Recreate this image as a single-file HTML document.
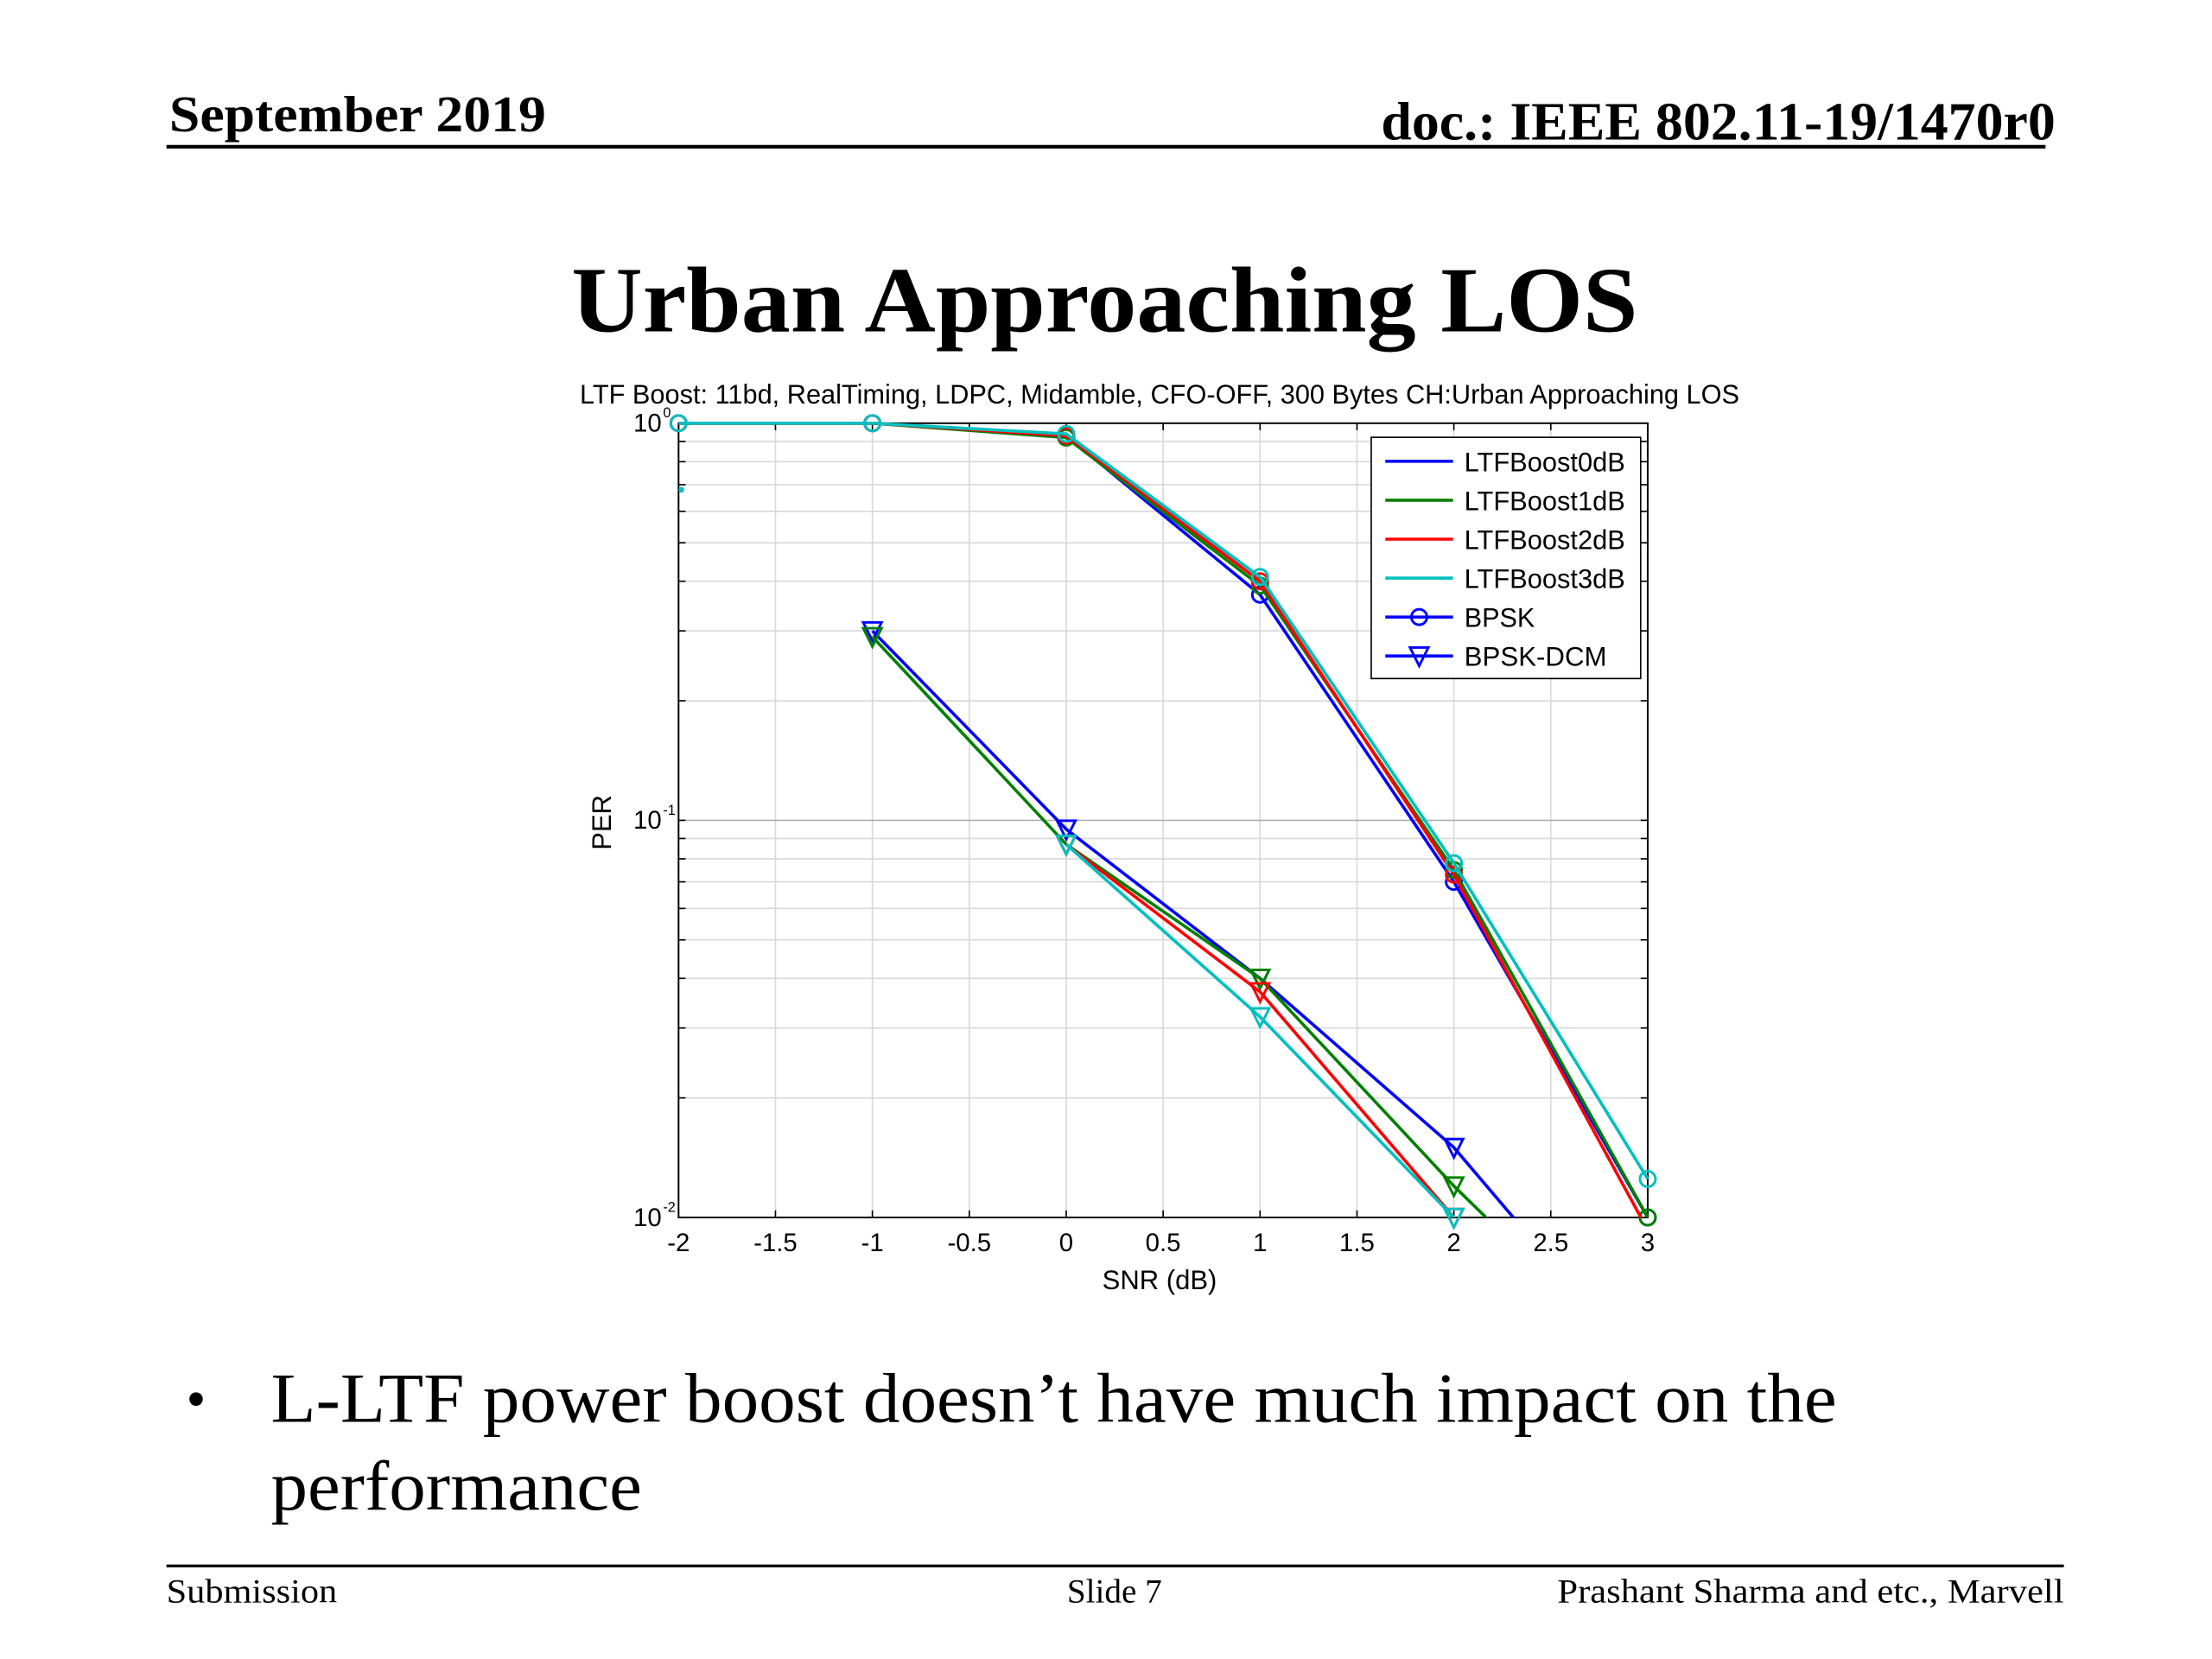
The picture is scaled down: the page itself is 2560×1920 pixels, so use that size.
<!DOCTYPE html>
<html><head><meta charset="utf-8"><style>
html,body{margin:0;padding:0;background:#fff;}
svg{display:block;}
</style></head><body>
<svg id="slide" width="2560" height="1920" viewBox="0 0 1568 1176" preserveAspectRatio="none" xmlns="http://www.w3.org/2000/svg">
<rect width="1568" height="1176" fill="#fff"/>
<g font-family="'Liberation Serif',serif" fill="#000">
<text x="120" y="93" font-size="36" font-weight="bold" textLength="267" lengthAdjust="spacingAndGlyphs">September 2019</text>
<text x="1457" y="99" font-size="38" font-weight="bold" text-anchor="end" textLength="478" lengthAdjust="spacingAndGlyphs">doc.: IEEE 802.11-19/1470r0</text>
<line x1="118" y1="104" x2="1450" y2="104" stroke="#000" stroke-width="2.5"/>
<text x="783" y="235" font-size="66" font-weight="bold" text-anchor="middle" textLength="756" lengthAdjust="spacingAndGlyphs">Urban Approaching LOS</text>
<text x="132" y="1005" font-size="40">•</text>
<text x="192" y="1008" font-size="50" textLength="1110" lengthAdjust="spacingAndGlyphs">L-LTF power boost doesn’t have much impact on the</text>
<text x="192" y="1070" font-size="50" textLength="263" lengthAdjust="spacingAndGlyphs">performance</text>
<line x1="118" y1="1110" x2="1463" y2="1110" stroke="#000" stroke-width="2"/>
<text x="118" y="1136" font-size="24" textLength="121" lengthAdjust="spacingAndGlyphs">Submission</text>
<text x="790" y="1136" font-size="24" text-anchor="middle">Slide 7</text>
<text x="1104" y="1136" font-size="24" textLength="359" lengthAdjust="spacingAndGlyphs">Prashant Sharma and etc., Marvell</text>
</g>
<g id="chart" font-family="'Liberation Sans',sans-serif"></g>
</svg>
<script>
const snr=[-2,-1,0,1,2,3];
const seriesNames=['LTFBoost0dB','LTFBoost1dB','LTFBoost2dB','LTFBoost3dB'];
const colors=['#0000ff','#008000','#ff0000','#00bfbf'];
const bpsk0=[1,1,0.93,0.37,0.070,0.0100];
const bpsk1=[1,1,0.92,0.39,0.075,0.0100];
const bpsk2=[1,1,0.93,0.40,0.073,0.0093];
const bpsk3=[1,1,0.94,0.41,0.078,0.0125];
const dcm0=[null,0.30,0.095,0.040,0.015,0.0040];
const dcm1=[null,0.29,0.087,0.040,0.012,0.0040];
const dcm2=[null,null,0.087,0.037,0.010,0.0030];
const dcm3=[null,null,0.087,0.032,0.010,0.0030];
const xTicks=[-2,-1.5,-1,-0.5,0,0.5,1,1.5,2,2.5,3];
const yDecades=[0,-1,-2];

const NS='http://www.w3.org/2000/svg';
const g=document.getElementById('chart');
const L=481,R=1168,T=300,B=863;
const X=v=>L+(v-(-2))/5*(R-L);
const Y=v=>T+(-Math.log10(v))/2*(B-T);
function mk(t,a,p){const e=document.createElementNS(NS,t);for(const k in a)e.setAttribute(k,a[k]);(p||g).appendChild(e);return e;}

const clip=mk('clipPath',{id:'pc'});mk('rect',{x:L,y:T-10,width:R-L+10,height:B-T+10},clip);
xTicks.forEach(v=>{
  const l=mk('line',{x1:X(v),x2:X(v),y1:T,y2:B,stroke:'#d8d8d8','stroke-width':1});
  
  
  mk('line',{x1:X(v),x2:X(v),y1:B,y2:B-5,stroke:'#000'});mk('line',{x1:X(v),x2:X(v),y1:T,y2:T+5,stroke:'#000'});
  const t=mk('text',{x:X(v),y:B+24,'font-size':18,'text-anchor':'middle'});t.textContent=String(v);
  
  
});
for(let d=-2;d<0;d++){for(let m=1;m<10;m++){const v=m*Math.pow(10,d);const y=Y(v);
  const l=mk('line',{x1:L,x2:R,y1:y,y2:y,stroke:m===1?'#b0b0b0':'#d8d8d8','stroke-width':1});
  
  
  mk('line',{x1:L,x2:L+5,y1:y,y2:y,stroke:'#000'});mk('line',{x1:R,x2:R-5,y1:y,y2:y,stroke:'#000'});
}}
yDecades.forEach(d=>{
  const t=mk('text',{x:L-12,y:Y(Math.pow(10,d))+6,'font-size':18,'text-anchor':'end'});t.textContent='10';
  
  
  const s=mk('text',{x:L-11,y:Y(Math.pow(10,d))-4,'font-size':10});s.textContent=String(d);
});
const ax=mk('rect',{x:L,y:T,width:R-L,height:B-T,fill:'none',stroke:'#000','stroke-width':1.2});


let tt=mk('text',{x:822,y:286,'font-size':19,'text-anchor':'middle',textLength:822,lengthAdjust:'spacingAndGlyphs'});
tt.textContent='LTF Boost: 11bd, RealTiming, LDPC, Midamble, CFO-OFF, 300 Bytes CH:Urban Approaching LOS';


tt=mk('text',{x:822,y:914,'font-size':19,'text-anchor':'middle'});tt.textContent='SNR (dB)';


tt=mk('text',{x:433,y:583,'font-size':19,'text-anchor':'middle',transform:'rotate(-90 433 583)'});tt.textContent='PER';



const series=[[bpsk0,bpsk1,bpsk2,bpsk3],[dcm0,dcm1,dcm2,dcm3]];
series.forEach((grp,gi)=>grp.forEach((vals,si)=>{
  const pts=[];snr.forEach((s,i)=>{if(vals[i]!=null)pts.push(X(s)+','+Y(vals[i]));});
  const pl=mk('polyline',{points:pts.join(' '),fill:'none',stroke:colors[si],'stroke-width':2.2,'clip-path':'url(#pc)'});
  
  
  snr.forEach((s,i)=>{const v=vals[i];if(v==null||v<0.0099)return;const x=X(s),y=Y(v);
    let m;
    if(gi===0)m=mk('circle',{cx:x,cy:y,r:5.5,fill:'none',stroke:colors[si],'stroke-width':1.8});
    else m=mk('polygon',{points:(x-6.5)+','+(y-6)+' '+(x+6.5)+','+(y-6)+' '+x+','+(y+7),fill:'none',stroke:colors[si],'stroke-width':1.8});
    
    
  });
}));
mk('circle',{cx:L+2,cy:Y(0.68),r:2,fill:'#00bfbf'});

const lg=mk('g',{});


mk('rect',{x:972,y:310,width:191,height:171,fill:'#fff',stroke:'#000','stroke-width':1},lg);
const legNames=seriesNames.concat(['BPSK','BPSK-DCM']);
const legCols=colors.concat(['#0000ff','#0000ff']);
legNames.forEach((n,i)=>{const y=327+i*27.6;
  const e=mk('g',{},lg);
  
  
  mk('line',{x1:982,x2:1030,y1:y,y2:y,stroke:legCols[i],'stroke-width':2.2},e);
  if(i===4)mk('circle',{cx:1006,cy:y,r:5.5,fill:'none',stroke:'#0000ff','stroke-width':1.8},e);
  if(i===5)mk('polygon',{points:'999.5,'+(y-6)+' 1012.5,'+(y-6)+' 1006,'+(y+7),fill:'none',stroke:'#0000ff','stroke-width':1.8},e);
  const t=mk('text',{x:1038,y:y+7,'font-size':19,textLength:114,lengthAdjust:'spacingAndGlyphs'},e);t.textContent=n;
  if(i===4)t.setAttribute('textLength','50');
  if(i===5)t.setAttribute('textLength','101');
});
</script>
</body></html>
